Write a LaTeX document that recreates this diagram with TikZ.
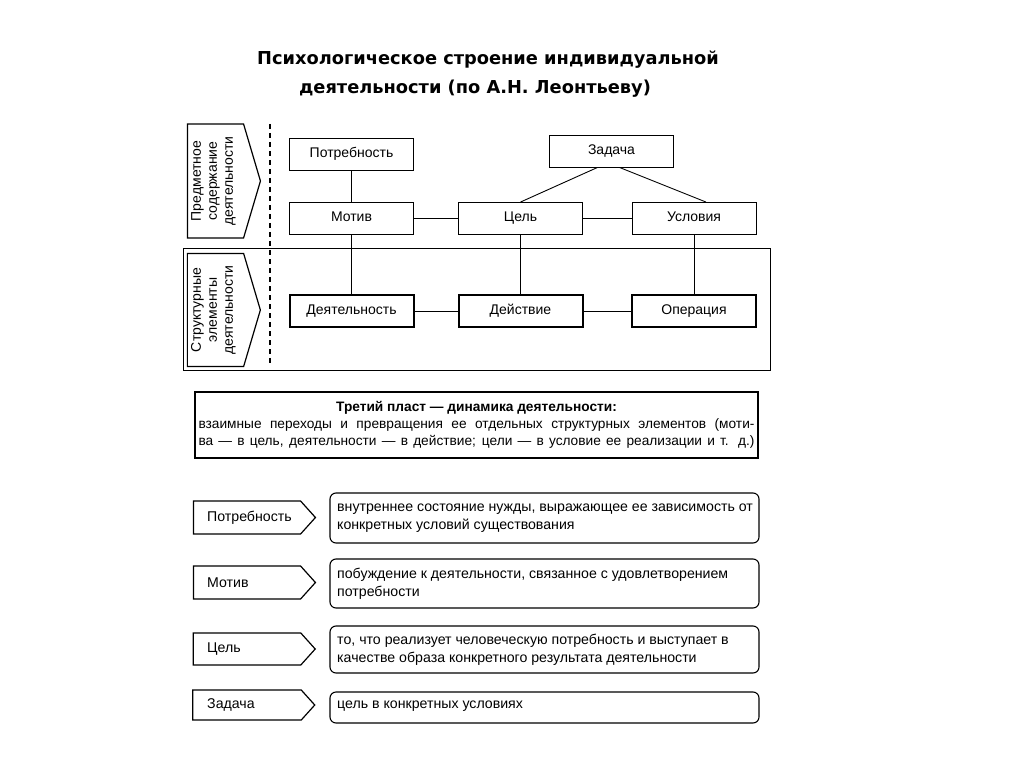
\documentclass[tikz,border=0pt]{standalone}
\usepackage{fontspec}
\setmainfont{Liberation Sans}
\newfontfamily\titlefont{DejaVu Sans}
\usetikzlibrary{calc,shapes.symbols}
\begin{document}
\begin{tikzpicture}[x=1pt,y=-1pt,
  txt/.style={font=\fontsize{14}{17}\selectfont},
  box/.style={draw, line width=0.9pt, minimum width=124pt, minimum height=32pt, inner sep=0pt, text height=10pt, text depth=3pt, txt},
  thickbox/.style={box, line width=2pt},
  conn/.style={line width=0.9pt},
  sig/.style={draw, shape=signal, signal to=east, line width=1.2pt, inner sep=0pt},
  defbox/.style={draw, rounded corners=6pt, line width=1.1pt, minimum width=429pt, inner sep=0pt},
  deftxt/.style={anchor=west, align=left, inner sep=0pt, font=\fontsize{14.15}{18}\selectfont},
]
\useasboundingbox (0,0) rectangle (1024,767);
\fill[white] (0,0) rectangle (1024,767);

% title
\node[font=\titlefont\bfseries\fontsize{17.8}{20}\selectfont] (t1) at (488,60) {Психологическое строение индивидуальной};
\node[font=\titlefont\bfseries\fontsize{17.8}{20}\selectfont] (t2) at (475,89) {деятельности (по А.Н. Леонтьеву)};

% left labels
\node[sig, minimum width=73pt, minimum height=114pt, signal pointer angle=147] (l1) at (215.5,181) {};
\node[rotate=90, align=center, font=\fontsize{14}{16}\selectfont] (l1t) at (213.5,181) {Предметное\\содержание\\деятельности};
\node[sig, minimum width=73pt, minimum height=113pt, signal pointer angle=147] (l2) at (215.5,310) {};
\node[rotate=90, align=center, font=\fontsize{14}{16}\selectfont] (l2t) at (213.5,310) {Структурные\\элементы\\деятельности};

% outer frame and dashed line
\node[draw, line width=1pt, minimum width=587pt, minimum height=122pt, inner sep=0pt] (frame) at (476.5,309) {};
\coordinate (dtop) at (270,124);
\coordinate (dbot) at (270,366);
\draw[line width=1.6pt, dash pattern=on 5pt off 4pt] (dtop) -- (dbot);

% boxes
\node[box] (potr) at (351.5,154.5) {Потребность};
\node[box] (motiv) at (351.5,218.5) {Мотив};
\node[box] (cel) at (520.5,218.5) {Цель};
\node[box] (usl) at (694,218.5) {Условия};
\node[box] (zad) at (611.5,151) {Задача};
\node[thickbox] (deyat) at (351.5,311) {Деятельность};
\node[thickbox] (deistv) at (520.5,311) {Действие};
\node[thickbox] (oper) at (694,311) {Операция};

% connectors
\draw[conn] (potr) -- (motiv);
\draw[conn] (motiv) -- (deyat);
\draw[conn] (motiv) -- (cel);
\draw[conn] (cel) -- (usl);
\draw[conn] (cel) -- (deistv);
\draw[conn] (usl) -- (oper);
\draw[conn] (deyat) -- (deistv);
\draw[conn] (deistv) -- (oper);
\draw[conn] ($(zad.south)+(-14,0)$) -- (cel.north);
\draw[conn] ($(zad.south)+(8,0)$) -- ($(usl.north)+(12,0)$);

% third layer
\node[draw, line width=1.1pt, minimum width=563pt, minimum height=66pt, inner sep=0pt, align=center, font=\fontsize{13.7}{17}\selectfont] (third) at (476.5,425)
  {{\bfseries Третий пласт — динамика деятельности:}\\
   \makebox[556pt][s]{взаимные переходы и превращения ее отдельных структурных элементов (моти-}\\
   \makebox[556pt][s]{ва — в цель, деятельности — в действие; цели — в условие ее реализации и т. д.)}};

% definitions
\node[sig, minimum width=122pt, minimum height=33pt, signal pointer angle=96] (s1) at (247,517.5) {};
\node[deftxt] (s1t) at (207,517.5) {Потребность};
\node[defbox, minimum height=50pt] (d1) at (544.5,518) {};
\node[deftxt] (d1t) at (337,518) {внутреннее состояние нужды, выражающее ее зависимость от\\конкретных условий существования};

\node[sig, minimum width=122pt, minimum height=33pt, signal pointer angle=96] (s2) at (247,582.5) {};
\node[deftxt] (s2t) at (207,582.5) {Мотив};
\node[defbox, minimum height=49pt] (d2) at (544.5,583.5) {};
\node[deftxt] (d2t) at (337,583.5) {побуждение к деятельности, связанное с удовлетворением\\потребности};

\node[sig, minimum width=122pt, minimum height=32pt, signal pointer angle=96] (s3) at (247,649) {};
\node[deftxt] (s3t) at (207,649) {Цель};
\node[defbox, minimum height=47pt] (d3) at (544.5,649.5) {};
\node[deftxt] (d3t) at (337,649.5) {то, что реализует человеческую потребность и выступает в\\качестве образа конкретного результата деятельности};

\node[sig, minimum width=122pt, minimum height=30pt, signal pointer angle=96] (s4) at (247,705) {};
\node[deftxt] (s4t) at (207,705) {Задача};
\node[defbox, minimum height=31pt] (d4) at (544.5,707.5) {};
\node[deftxt] (d4t) at (337,706) {цель в конкретных условиях};
\end{tikzpicture}
\end{document}
